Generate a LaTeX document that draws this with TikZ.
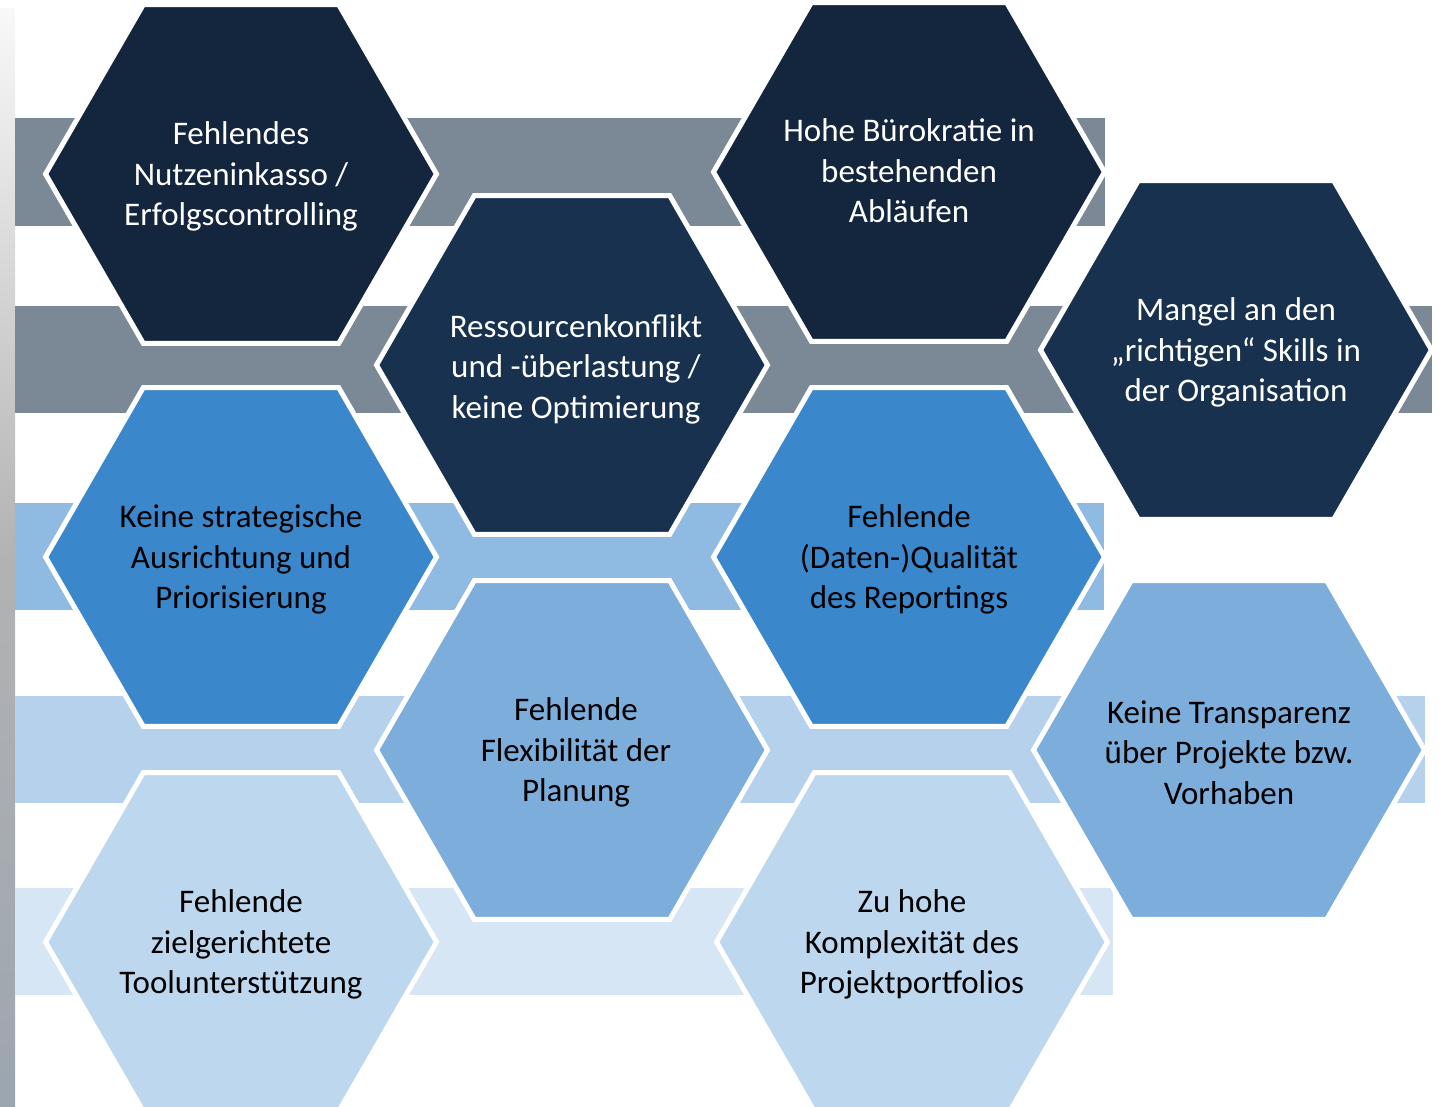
\documentclass[tikz,border=0pt]{standalone}
\usepackage{fontspec}
\setmainfont{Carlito}
\usetikzlibrary{shapes.geometric}

\definecolor{navyA}{HTML}{13263D}
\definecolor{navyB}{HTML}{17314F}
\definecolor{blueA}{HTML}{3B87CB}
\definecolor{blueB}{HTML}{7CADDB}
\definecolor{blueC}{HTML}{BDD7EE}
\definecolor{bandgrey}{HTML}{7B8895}
\definecolor{bandblue}{HTML}{8FBAE2}
\definecolor{bandlight}{HTML}{B5D1EB}
\definecolor{bandpale}{HTML}{D7E6F4}

\tikzset{
  cell/.style={regular polygon, regular polygon sides=6, minimum size=391pt,
    inner sep=0pt, draw=white, line width=5pt},
  cellnavyA/.style={cell, fill=navyA},
  cellnavyB/.style={cell, fill=navyB},
  cellblueA/.style={cell, fill=blueA},
  cellblueB/.style={cell, fill=blueB},
  cellblueC/.style={cell, fill=blueC},
  celltext/.style={align=center, inner sep=0pt, yshift=-2.5pt,
    font=\fontsize{33}{40.5}\selectfont},
  txtlight/.style={celltext, text=white},
  txtdark/.style={celltext, text=black}
}

\begin{document}
\begin{tikzpicture}[x=1pt, y=-1pt]
  \useasboundingbox (0,0) rectangle (1439,1106);
  \fill[white] (0,0) rectangle (1439,1106);

  % left photo strip
  \shade[top color=white!95!gray, bottom color=bandgrey!75!white, middle color=gray!60!white]
    (0,8) rectangle (15,1106);

  % bands
  \fill[bandgrey]  (15,118) rectangle (1105,226);
  \fill[bandgrey]  (15,306) rectangle (1432,413);
  \fill[bandblue]  (15,503) rectangle (1104,610);
  \fill[bandlight] (15,696) rectangle (1425,803);
  \fill[bandpale]  (15,888) rectangle (1113,995);

  % hexagons
  \node[cellnavyA] (nutzen)   at (241,174)  {};
  \node[cellnavyA] (buero)    at (909,172)  {};
  \node[cellnavyB] (ressourc) at (572,365)  {};
  \node[cellnavyB] (skills)   at (1236,350) {};
  \node[cellblueA] (strateg)  at (241,557)  {};
  \node[cellblueA] (qualit)   at (909,557)  {};
  \node[cellblueB] (flexib)   at (572,750)  {};
  \node[cellblueB] (transp)   at (1229,750) {};
  \node[cellblueC] (tool)     at (241,942)  {};
  \node[cellblueC] (komplex)  at (912,942)  {};

  % texts
  \node[txtlight] (nutzen-t)   at (nutzen)   {Fehlendes\\Nutzeninkasso /\\Erfolgscontrolling};
  \node[txtlight, yshift=3.5pt] (buero-t) at (buero) {Hohe Bürokratie in\\bestehenden\\Abläufen};
  \node[txtlight, xshift=4pt, yshift=-1.5pt] (ressourc-t) at (ressourc) {Ressourcenkonflikt\\und -überlastung /\\keine Optimierung};
  \node[txtlight] (skills-t)   at (skills)   {Mangel an den\\„richtigen“ Skills in\\der Organisation};
  \node[txtdark]  (strateg-t)  at (strateg)  {Keine strategische\\Ausrichtung und\\Priorisierung};
  \node[txtdark]  (qualit-t)   at (qualit)   {Fehlende\\(Daten-)Qualität\\des Reportings};
  \node[txtdark, xshift=4pt] (flexib-t) at (flexib) {Fehlende\\Flexibilität der\\Planung};
  \node[txtdark]  (transp-t)   at (transp)   {Keine Transparenz\\über Projekte bzw.\\Vorhaben};
  \node[txtdark]  (tool-t)     at (tool)     {Fehlende\\zielgerichtete\\Toolunterstützung};
  \node[txtdark]  (komplex-t)  at (komplex)  {Zu hohe\\Komplexität des\\Projektportfolios};
\end{tikzpicture}
\end{document}
